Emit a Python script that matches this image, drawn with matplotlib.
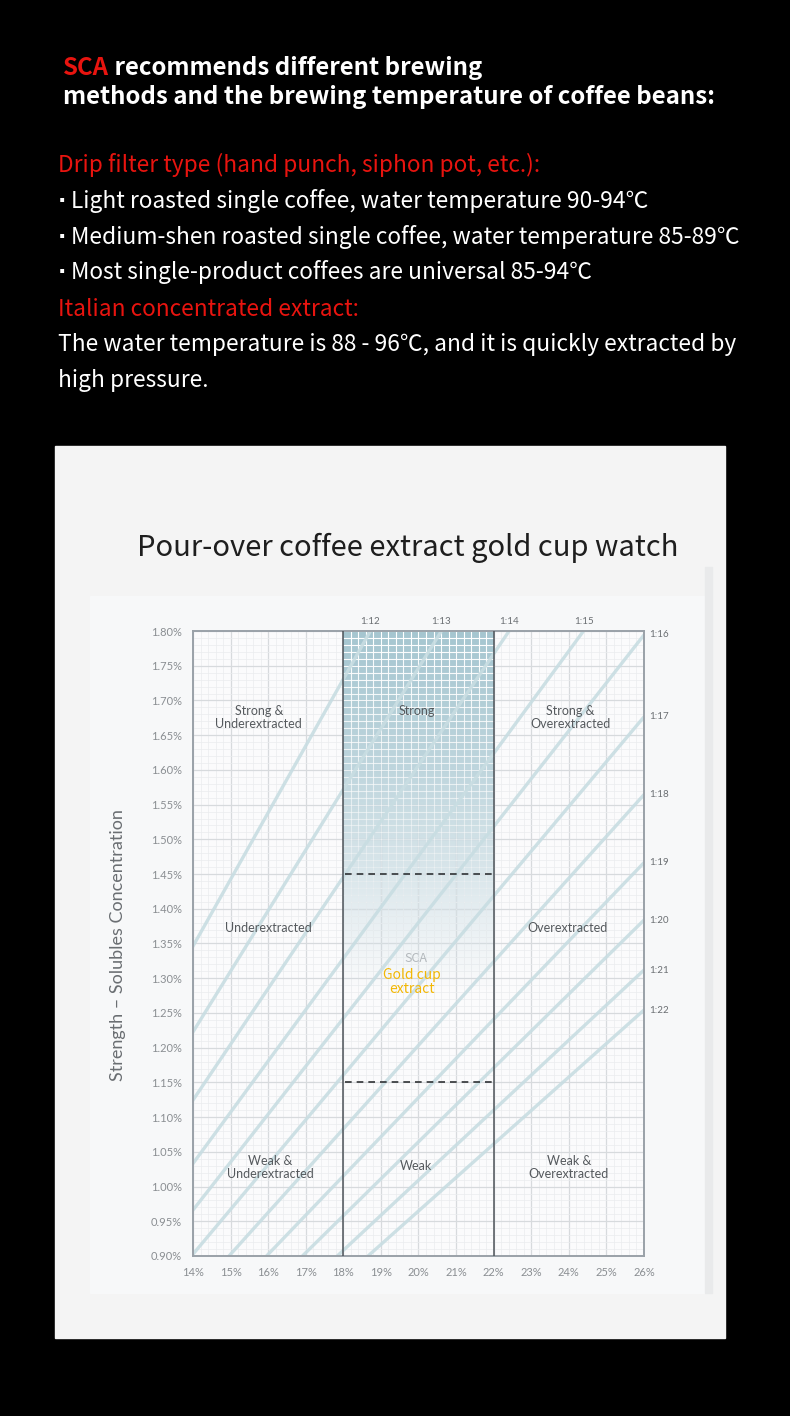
import numpy as np
import matplotlib
matplotlib.use('Agg')
import matplotlib.pyplot as plt
from matplotlib.patches import Rectangle
from matplotlib.collections import LineCollection
from matplotlib.colors import to_rgb

# ---- data ----
ey_ticks = [14, 15, 16, 17, 18, 19, 20, 21, 22, 23, 24, 25, 26]          # extraction yield %
tds_ticks = [0.90, 0.95, 1.00, 1.05, 1.10, 1.15, 1.20, 1.25, 1.30, 1.35,
             1.40, 1.45, 1.50, 1.55, 1.60, 1.65, 1.70, 1.75, 1.80]        # strength %
ratio_labels = ['1:12', '1:13', '1:14', '1:15', '1:16', '1:17',
                '1:18', '1:19', '1:20', '1:21', '1:22']
# EY% per TDS% along each brew-ratio line
ratio_slopes = [10.4, 11.45, 12.45, 13.55, 14.49, 15.51, 16.62, 17.73, 18.79, 19.82, 20.73]
ideal_ey = [18, 22]
ideal_tds = [1.15, 1.45]

region_names = ['Strong &\nUnderextracted', 'Strong', 'Strong &\nOverextracted',
                'Underextracted', 'Overextracted',
                'Weak &\nUnderextracted', 'Weak', 'Weak &\nOverextracted']
region_ey = [15.75, 19.95, 24.05, 16.0, 23.97, 16.05, 19.93, 24.0]
region_tds = [1.675, 1.685, 1.675, 1.372, 1.372, 1.027, 1.030, 1.027]

W, H = 790, 1416
RED = '#e8140f'
CJK = ['Noto Sans CJK SC', 'DejaVu Sans']
CHART_FONT = ['Lato', 'DejaVu Sans']

fig = plt.figure(figsize=(W / 100, H / 100), dpi=100, facecolor='black')

# background layer in pixel coords
bg = fig.add_axes([0, 0, 1, 1])
bg.set_xlim(0, W)
bg.set_ylim(H, 0)
bg.axis('off')
bg.add_patch(Rectangle((55, 446), 670, 892, color='#f4f4f4', zorder=0))
bg.add_patch(Rectangle((90, 596), 616, 697, color='#f7f8f9', zorder=0.5))
bg.add_patch(Rectangle((705, 567), 7, 726, color='#e9eaeb', zorder=0.5))

# header text
t_sca = bg.text(63, 80, 'SCA', color=RED, fontsize=17.3, fontweight='bold',
                family=CJK, va='bottom', ha='left')
bg.annotate(' recommends different brewing', xy=(1, 0), xycoords=t_sca,
            color='white', fontsize=17.3, fontweight='bold', family=CJK,
            va='bottom', ha='left')
bg.text(63, 97, 'methods and the brewing temperature of coffee beans:', color='white',
        fontsize=17.3, fontweight='bold', family=CJK, va='center', ha='left')

body = [
    ('Drip filter type (hand punch, siphon pot, etc.):', RED, 165, False),
    ('Light roasted single coffee, water temperature 90-94℃', 'white', 201, True),
    ('Medium-shen roasted single coffee, water temperature 85-89℃', 'white', 237, True),
    ('Most single-product coffees are universal 85-94℃', 'white', 272, True),
    ('Italian concentrated extract:', RED, 309, False),
    ('The water temperature is 88 - 96℃, and it is quickly extracted by', 'white', 345, False),
    ('high pressure.', 'white', 381, False),
]
for txt, col, y, bullet in body:
    if bullet:
        bg.text(58, y, '·', color=col, fontsize=16, family=['DejaVu Sans'],
                fontweight='bold', va='center', ha='left')
        bg.text(71, y, txt, color=col, fontsize=16.4, family=CJK, fontweight='medium',
                va='center', ha='left')
    else:
        bg.text(58, y, txt, color=col, fontsize=16.4, family=CJK, fontweight='medium',
                va='center', ha='left')

bg.text(408, 548, 'Pour-over coffee extract gold cup watch', color='#1e1e1e',
        fontsize=21, family=CJK, va='center', ha='center')
bg.text(118, 945, 'Strength – Solubles Concentration', color='#6a6e72', fontsize=13,
        family=CHART_FONT, rotation=90, va='center', ha='center')

# ---- main chart ----
ax = fig.add_axes([193 / W, 1 - 1256 / H, (644 - 193) / W, (1256 - 631) / H])
ax.set_facecolor('#fbfbfc')

# blue fade over the ideal-EY column
fade_tds = [0.90, 1.28, 1.36, 1.46, 1.60, 1.80]
fade_alpha = [0.0, 0.0, 0.13, 0.32, 0.55, 0.78]
tds_fine = np.linspace(0.90, 1.80, 300)
img = np.zeros((len(tds_fine), 1, 4))
img[..., :3] = to_rgb('#8db7c4')
img[:, 0, 3] = np.interp(tds_fine, fade_tds, fade_alpha)
ax.imshow(img, extent=[ideal_ey[0], ideal_ey[1], 0.90, 1.80], origin='lower',
          aspect='auto', interpolation='bilinear', zorder=1)

ax.set_xlim(ey_ticks[0], ey_ticks[-1])
ax.set_ylim(tds_ticks[0], tds_ticks[-1])
ax.set_xticks(ey_ticks)
ax.set_xticklabels([f'{v}%' for v in ey_ticks])
ax.set_yticks(tds_ticks)
ax.set_yticklabels([f'{v:.2f}%' for v in tds_ticks])
minor_x = np.linspace(14, 26, 61)
minor_y = np.linspace(0.90, 1.80, 91)
ax.set_xticks(minor_x, minor=True)
ax.set_yticks(minor_y, minor=True)
ax.grid(which='major', color='#d7dadd', lw=0.9)
ax.grid(which='minor', color='#eaecee', lw=0.5)
ax.set_axisbelow(True)
ax.tick_params(which='both', length=0, labelsize=8, colors='#8a8e92', pad=8)
for lab in ax.get_xticklabels() + ax.get_yticklabels():
    lab.set_family(CHART_FONT)

# white cell lines over the blue part, fading with the fill
mx = minor_x[(minor_x > ideal_ey[0]) & (minor_x < ideal_ey[1])]
my = minor_y[minor_y > 1.26]
segs, cols = [], []
for y0, y1 in zip(my[:-1], my[1:]):
    a = min(1.0, np.interp(0.5 * (y0 + y1), fade_tds, fade_alpha) * 1.3)
    for x in mx:
        segs.append([(x, y0), (x, y1)])
        cols.append((1, 1, 1, a))
for y in my:
    a = min(1.0, np.interp(y, fade_tds, fade_alpha) * 1.3)
    segs.append([(ideal_ey[0], y), (ideal_ey[1], y)])
    cols.append((1, 1, 1, a))
ax.add_collection(LineCollection(segs, colors=cols, linewidths=0.8, zorder=1.2))

# brew ratio lines
tds_line = np.array([0.90, 1.80])
for m in ratio_slopes:
    ax.plot(m * tds_line, tds_line, color='#c8dde2', lw=2.4, alpha=0.9,
            solid_capstyle='butt', zorder=2)

for lab, m in zip(ratio_labels, ratio_slopes):
    if m * 1.80 <= 26:
        ax.text(m * 1.80, 1.813, lab, fontsize=7, color='#6a6e72', family=CHART_FONT,
                ha='center', va='center', clip_on=False)
    else:
        ax.text(26.13, 26 / m, lab, fontsize=7, color='#6a6e72', family=CHART_FONT,
                ha='left', va='center', clip_on=False)

for v in ideal_ey:
    ax.axvline(v, color='#4e545a', lw=1.1, zorder=3)
ax.hlines(ideal_tds, ideal_ey[0] + 0.05, ideal_ey[1] - 0.05, color='#2f3235', lw=1.2,
          linestyles=(0, (4, 3)), zorder=3)

for sp in ax.spines.values():
    sp.set_color('#9aa1a8')
    sp.set_linewidth(1.4)

for name, x, y in zip(region_names, region_ey, region_tds):
    ax.text(x, y, name, fontsize=9, color='#55595d', family=CHART_FONT,
            ha='center', va='center', linespacing=1.1, zorder=4)

ax.text(19.93, 1.329, 'SCA', fontsize=9, color='#b3b8bc', family=CJK,
        ha='center', va='center', zorder=4)
ax.text(19.82, 1.294, 'Gold cup\nextract', fontsize=10, color='#f2b705', family=CJK,
        fontweight='medium', ha='center', va='center', linespacing=1.0, zorder=4)

fig.savefig('out.png', dpi=100, facecolor='black')
